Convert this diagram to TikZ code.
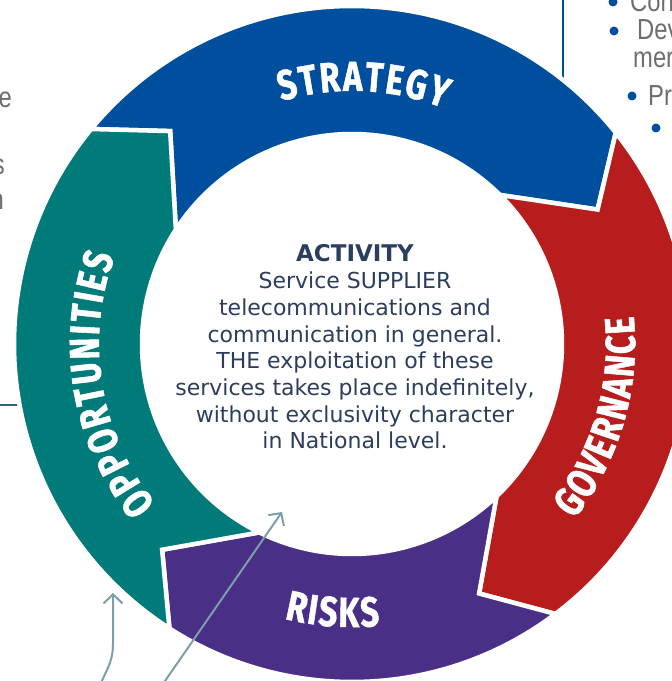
\documentclass[tikz,border=0pt]{standalone}
\usepackage{fontspec}
\setmainfont{DejaVu Sans}
\newfontfamily\lblfont[FakeStretch=0.78, FakeBold=1.2]{Fira Sans}
\newfontfamily\narrowfont[FakeStretch=0.82]{Liberation Sans}
\usetikzlibrary{calc,decorations.text,arrows.meta}

\definecolor{stratblue}{HTML}{004F9E}
\definecolor{govred}{HTML}{B81D1E}
\definecolor{riskpurple}{HTML}{4A2F87}
\definecolor{oppteal}{HTML}{007B79}
\definecolor{navytext}{HTML}{2C3E5E}
\definecolor{linkgray}{HTML}{7E9EAC}
\definecolor{bodygray}{HTML}{6E6E6E}
\definecolor{railteal}{HTML}{2F6470}

\tikzset{
  ringseg/.style={draw=white, line width=4.5pt, line join=miter},
  ringlabel/.style={decorate, decoration={text along path, text align=center,
      text={|\lblfont\bfseries\fontsize{42}{42}\selectfont\color{white}\kern2pt|#1}}},
  linkarrow/.style={draw=linkgray, line width=2pt, -{Straight Barb[length=9pt,width=19pt]}},
  acttext/.style={align=center, text=navytext, font=\fontsize{22}{26.7}\selectfont},
  sidetext/.style={text=bodygray, font=\narrowfont\fontsize{29}{29}\selectfont, inner sep=0pt},
  bulletdot/.style={circle, fill=stratblue, minimum size=9pt, inner sep=0pt},
}

% one arrow-shaped piece of the ring: colour, notch angle, tip angle
\newcommand\ringpart[3]{%
  \filldraw[ringseg, fill=#1] ($(C)+(#2:338)$)
    arc[start angle=#2, end angle=#3, radius=338pt]
    -- ($(C)+({#3-10}:280)$) -- ($(C)+({#3+6.5}:210)$)
    arc[start angle={#3+6.5}, end angle={#2+6.5}, radius=210pt]
    -- ($(C)+({#2-10}:280)$) -- cycle;}

\begin{document}
\begin{tikzpicture}[x=1pt, y=1pt]
\useasboundingbox (0,0) rectangle (672,681);
\clip (0,0) rectangle (672,681);
\fill[white] (0,0) rectangle (672,681);

\coordinate (C) at (352,337);

% rails running in behind the ring
\coordinate (railL) at (0,276);
\coordinate (railLend) at (60,276);
\draw[railteal, line width=2pt] (railL) -- (railLend);
\coordinate (railT) at (563,683);
\coordinate (railTend) at (563,560);
\draw[stratblue, line width=2pt] (railT) -- (railTend);

% text fragments at the edges
\node[sidetext, anchor=base east] (fragE) at (12,573) {e};
\node[sidetext, anchor=base east] (fragS) at (5,506) {s};
\node[sidetext, anchor=base east] (fragN) at (4,471) {n};

\node[bulletdot] (b1) at (613,679) {};
\node[bulletdot] (b2) at (614,650) {};
\node[bulletdot] (b3) at (632,585) {};
\node[bulletdot] (b4) at (656,553) {};
\node[sidetext, anchor=base west] (t1) at (630,669) {Cons};
\node[sidetext, anchor=base west] (t2) at (637,641) {Dev};
\node[sidetext, anchor=base west] (t3) at (633,613) {meri};
\node[sidetext, anchor=base west] (t4) at (648,575) {Pro};

% the cycle
\ringpart{stratblue}{140.5}{38.7}
\ringpart{govred}{38.7}{-53.0}
\ringpart{riskpurple}{-53.0}{-122.7}
\ringpart{oppteal}{237.3}{140.5}

% labels along the ring
\path[ringlabel=STRATEGY] ($(C)+(147.7:253)$) arc[start angle=147.7, end angle=27.7, radius=253pt];
\path[ringlabel=GOVERNANCE] ($(C)+(-76.5:283)$) arc[start angle=-76.5, end angle=43.5, radius=283pt];
\path[ringlabel=RISKS] ($(C)+(215.7:283)$) arc[start angle=215.7, end angle=315.7, radius=283pt];
\path[ringlabel=OPPORTUNITIES] ($(C)+(259.7:253)$) arc[start angle=259.7, end angle=119.7, radius=253pt];

% centre text
\node[acttext] (activity) at (355,334) {{\bfseries\fontsize{23}{26.7}\selectfont ACTIVITY}\\
Service SUPPLIER\\
telecommunications and\\
communication in general.\\
THE exploitation of these\\
services takes place indefinitely,\\
without exclusivity character\\
in National level.};

% pointers from below
\coordinate (p1s) at (101,-2);
\coordinate (p1e) at (113,88);
\draw[linkarrow] (p1s) .. controls (108,14) and (113,20) .. (113,38) -- (p1e);
\coordinate (p2s) at (163.6,-2);
\coordinate (p2e) at (282,169);
\draw[linkarrow] (p2s) -- (p2e);
\end{tikzpicture}
\end{document}
